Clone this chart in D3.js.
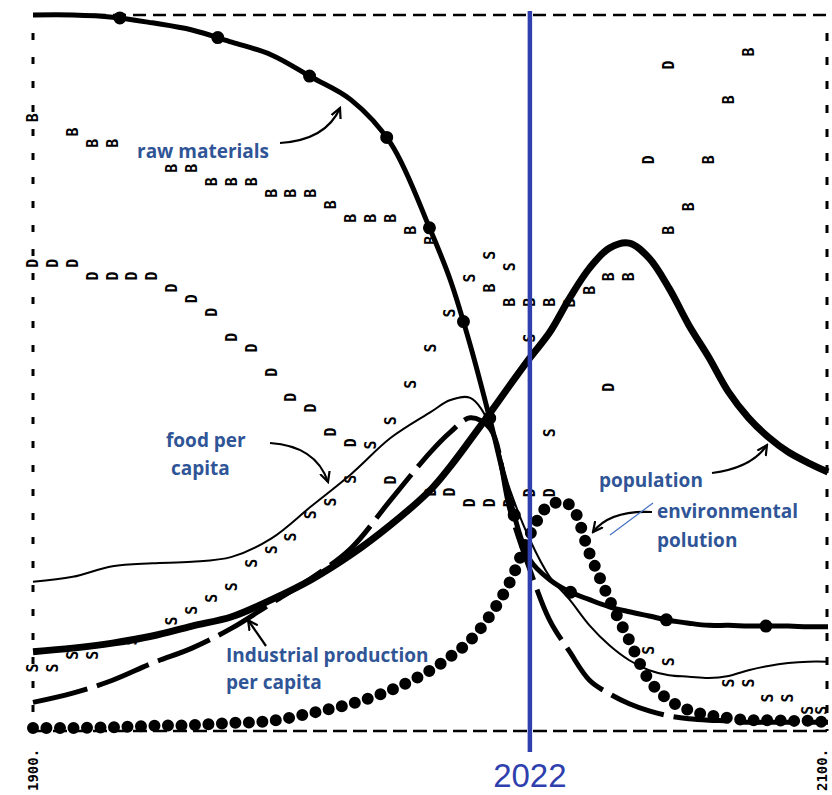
<!DOCTYPE html>
<html>
<head>
<meta charset="utf-8">
<script src="https://cdn.jsdelivr.net/npm/d3@7"></script>
<style>
  html, body { margin: 0; padding: 0; background: #fff; }
  svg { display: block; }
  .note { font-family: "Open Sans", sans-serif; font-weight: 700; fill: #2f5597; font-size: 19px; }
  .letter { font-family: "DejaVu Sans Mono", monospace; font-size: 15px; font-weight: 700; fill: #000; }
</style>
</head>
<body>
<svg id="chart"></svg>
<script>
// World model standard run, values scaled 0..1
const years = [1900, 1910, 1920, 1930, 1940, 1950, 1960, 1970, 1980, 1990, 2000, 2005, 2010, 2015, 2020,
  2025, 2030, 2035, 2040, 2045, 2050, 2055, 2060, 2065, 2070, 2075, 2080, 2085, 2090, 2095, 2100];

const resources = [1.0, 1.0, 0.997, 0.989, 0.979, 0.962, 0.944, 0.913, 0.881, 0.820, 0.698, 0.628, 0.537, 0.432, 0.320,
  0.236, 0.208, 0.191, 0.180, 0.170, 0.163, 0.157, 0.151, 0.147, 0.144, 0.144, 0.143, 0.143, 0.143, 0.142, 0.142];

const population = [0.107, 0.112, 0.119, 0.129, 0.143, 0.156, 0.180, 0.208, 0.243, 0.285, 0.334, 0.367, 0.404, 0.442, 0.481,
  0.519, 0.555, 0.603, 0.645, 0.673, 0.680, 0.659, 0.617, 0.565, 0.520, 0.471, 0.435, 0.408, 0.387, 0.372, 0.359];

const foodPerCapita = [0.205, 0.212, 0.227, 0.231, 0.233, 0.240, 0.266, 0.311, 0.356, 0.407, 0.443, 0.460, 0.463, 0.425, 0.334,
  0.264, 0.212, 0.180, 0.144, 0.116, 0.095, 0.081, 0.074, 0.072, 0.070, 0.073, 0.081, 0.087, 0.091, 0.093, 0.093];

const industryPerCapita = [0.036, 0.049, 0.067, 0.091, 0.112, 0.140, 0.175, 0.210, 0.252, 0.320, 0.387, 0.415, 0.435, 0.420, 0.306,
  0.222, 0.151, 0.107, 0.067, 0.048, 0.034, 0.024, 0.017, 0.013, 0.011, 0.010, 0.008, 0.008, 0.008, 0.008, 0.008];

const pollution = [0.0, 0.0, 0.001, 0.003, 0.004, 0.007, 0.010, 0.021, 0.034, 0.053, 0.081, 0.100, 0.123, 0.158, 0.205,
  0.271, 0.313, 0.313, 0.245, 0.180, 0.123, 0.067, 0.039, 0.025, 0.018, 0.014, 0.011, 0.011, 0.010, 0.010, 0.008];

// letter-plotted series of the printout
const birthYears = [1900, 1910, 1915, 1920, 1935, 1940, 1945, 1950, 1955, 1960, 1965, 1970, 1975, 1980, 1985, 1990, 1995,
  2000, 2015, 2020, 2025, 2030, 2035, 2040, 2045, 2050, 2060, 2065, 2070, 2075, 2080];
const birthRate = [0.856, 0.836, 0.820, 0.820, 0.785, 0.785, 0.766, 0.766, 0.766, 0.750, 0.750, 0.750, 0.734, 0.715, 0.715, 0.715, 0.698,
  0.684, 0.617, 0.597, 0.597, 0.597, 0.596, 0.614, 0.633, 0.633, 0.698, 0.731, 0.797, 0.881, 0.948];

const deathYears = [1900, 1905, 1910, 1915, 1920, 1925, 1930, 1935, 1940, 1945, 1950, 1955, 1960, 1965, 1970, 1975, 1980,
  1990, 2000, 2005, 2010, 2015, 2020, 2025, 2030, 2045, 2055, 2060];
const deathRate = [0.652, 0.652, 0.652, 0.634, 0.634, 0.634, 0.634, 0.617, 0.602, 0.583, 0.548, 0.533, 0.499, 0.464, 0.449, 0.415, 0.400,
  0.348, 0.331, 0.331, 0.316, 0.316, 0.316, 0.330, 0.330, 0.478, 0.797, 0.930];

const serviceYears = [1900, 1905, 1910, 1915, 1925, 1935, 1940, 1945, 1950, 1955, 1960, 1965, 1970, 1975, 1980, 1985, 1990,
  1995, 2000, 2005, 2010, 2015, 2020, 2025, 2030, 2055, 2060, 2075, 2080, 2085, 2090, 2095, 2100];
const servicesPerCapita = [0.084, 0.084, 0.102, 0.102, 0.122, 0.150, 0.165, 0.182, 0.198, 0.231, 0.250, 0.268, 0.299, 0.317, 0.349, 0.397, 0.431,
  0.482, 0.533, 0.582, 0.631, 0.663, 0.647, 0.547, 0.414, 0.109, 0.093, 0.063, 0.063, 0.042, 0.042, 0.025, 0.025];

// where the blue "today" line sits on the scan, and its caption
const markerYear = 2025;
const markerLabel = "2022";

const width = 832, height = 795;

const svg = d3.select("#chart")
  .attr("width", width)
  .attr("height", height);

const x = d3.scaleLinear().domain([1900, 2100]).range([33, 828]);
const y = d3.scaleLinear().domain([0, 1]).range([728, 15]);

const frameBottom = y(0) + 3;

// dashed frame
const frame = svg.append("g").attr("stroke", "#000").attr("fill", "none");
frame.append("line")
  .attr("x1", x(1900)).attr("x2", x(2100))
  .attr("y1", y(1)).attr("y2", y(1))
  .attr("stroke-width", 2.5).attr("stroke-dasharray", "13,7");
frame.append("line")
  .attr("x1", x(1900)).attr("x2", x(2100))
  .attr("y1", frameBottom).attr("y2", frameBottom)
  .attr("stroke-width", 2.5).attr("stroke-dasharray", "14,6");
frame.append("line")
  .attr("x1", x(1900)).attr("x2", x(1900))
  .attr("y1", y(1) + 18).attr("y2", frameBottom)
  .attr("stroke-width", 3).attr("stroke-dasharray", "7,17");
frame.append("line")
  .attr("x1", x(2100) - 1).attr("x2", x(2100) - 1)
  .attr("y1", y(1) + 18).attr("y2", frameBottom)
  .attr("stroke-width", 3).attr("stroke-dasharray", "8,16");

const line = d3.line()
  .x((d, i) => x(years[i]))
  .y(d => y(d))
  .curve(d3.curveCatmullRom.alpha(0.5));

// letters (drawn sideways like the printout)
function letters(yrs, vals, ch) {
  svg.append("g")
    .selectAll("text")
    .data(vals)
    .join("text")
    .attr("class", "letter")
    .attr("text-anchor", "middle")
    .attr("dominant-baseline", "central")
    .attr("transform", (d, i) => `translate(${Math.min(x(yrs[i]), 822)},${y(d)}) rotate(-90)`)
    .text(ch);
}
letters(birthYears, birthRate, "B");
letters(deathYears, deathRate, "D");
letters(serviceYears, servicesPerCapita, "S");

const curves = svg.append("g").attr("fill", "none").attr("stroke", "#000")
  .attr("stroke-linejoin", "round");

// food per capita - thin
curves.append("path")
  .attr("d", line(foodPerCapita))
  .attr("stroke-width", 2);

// industrial output per capita - thick dashed
curves.append("path")
  .attr("d", line(industryPerCapita))
  .attr("stroke-width", 5)
  .attr("stroke-dasharray", "56,10");

// resources - thick with big dots
curves.append("path")
  .attr("d", line(resources))
  .attr("stroke-width", 5);
curves.append("path")
  .attr("d", line(resources))
  .attr("stroke-width", 13)
  .attr("stroke-linecap", "round")
  .attr("stroke-dasharray", "0,100")
  .attr("stroke-dashoffset", 13);

// population - heavy line
curves.append("path")
  .attr("d", line(population))
  .attr("stroke-width", 7);

// pollution - chain of dots
curves.append("path")
  .attr("d", line(pollution))
  .attr("stroke-width", 12)
  .attr("stroke-linecap", "round")
  .attr("stroke-dasharray", "0,13.5");

// year labels, printed sideways
svg.append("g")
  .selectAll("text")
  .data([1900, 2100])
  .join("text")
  .attr("transform", d => `translate(${x(d) + (d === 2100 ? -6 : 0)},791) rotate(-90)`)
  .attr("dominant-baseline", "central")
  .attr("font-family", "DejaVu Sans Mono, monospace")
  .attr("font-size", 14)
  .attr("font-weight", 700)
  .text(d => d + ".");

// annotation arrows
svg.append("defs").append("marker")
  .attr("id", "head")
  .attr("viewBox", "0 -6 12 12")
  .attr("refX", 10).attr("refY", 0)
  .attr("markerWidth", 12).attr("markerHeight", 12)
  .attr("markerUnits", "userSpaceOnUse")
  .attr("orient", "auto")
  .append("path")
  .attr("d", "M0,-5L10,0L0,5")
  .attr("fill", "none")
  .attr("stroke", "#000")
  .attr("stroke-width", 2.2);

const arrows = [
  "M280,143 Q326,140 340,108",
  "M270,443 Q316,446 328,482",
  "M266,646 L248,620",
  "M712,473 Q752,468 767,445",
  "M652,512 Q610,510 593,532"
];
svg.append("g")
  .selectAll("path")
  .data(arrows)
  .join("path")
  .attr("d", d => d)
  .attr("fill", "none")
  .attr("stroke", "#000")
  .attr("stroke-width", 2.2)
  .attr("marker-end", "url(#head)");

svg.append("line")
  .attr("x1", 610).attr("y1", 535)
  .attr("x2", 653).attr("y2", 503)
  .attr("stroke", "#4472c4")
  .attr("stroke-width", 1.2);

// blue annotation labels
const notes = [
  { t: "raw materials", x: 137, y: 158 },
  { t: "food per", x: 166, y: 447 },
  { t: "capita", x: 171, y: 475 },
  { t: "Industrial production", x: 226, y: 662 },
  { t: "per capita", x: 226, y: 689 },
  { t: "population", x: 599, y: 487 },
  { t: "environmental", x: 657, y: 518 },
  { t: "polution", x: 657, y: 547 }
];
svg.append("g")
  .selectAll("text")
  .data(notes)
  .join("text")
  .attr("class", "note")
  .attr("x", d => d.x)
  .attr("y", d => d.y)
  .text(d => d.t);

// the "today" marker
svg.append("line")
  .attr("x1", x(markerYear)).attr("x2", x(markerYear))
  .attr("y1", y(1) - 4).attr("y2", 752)
  .attr("stroke", "#2f3fae")
  .attr("stroke-width", 4.5);

svg.append("text")
  .attr("x", x(markerYear))
  .attr("y", 787)
  .attr("text-anchor", "middle")
  .attr("font-family", "Liberation Sans, Arial, sans-serif")
  .attr("font-size", 33)
  .attr("fill", "#2f3fae")
  .text(markerLabel);
</script>
</body>
</html>
